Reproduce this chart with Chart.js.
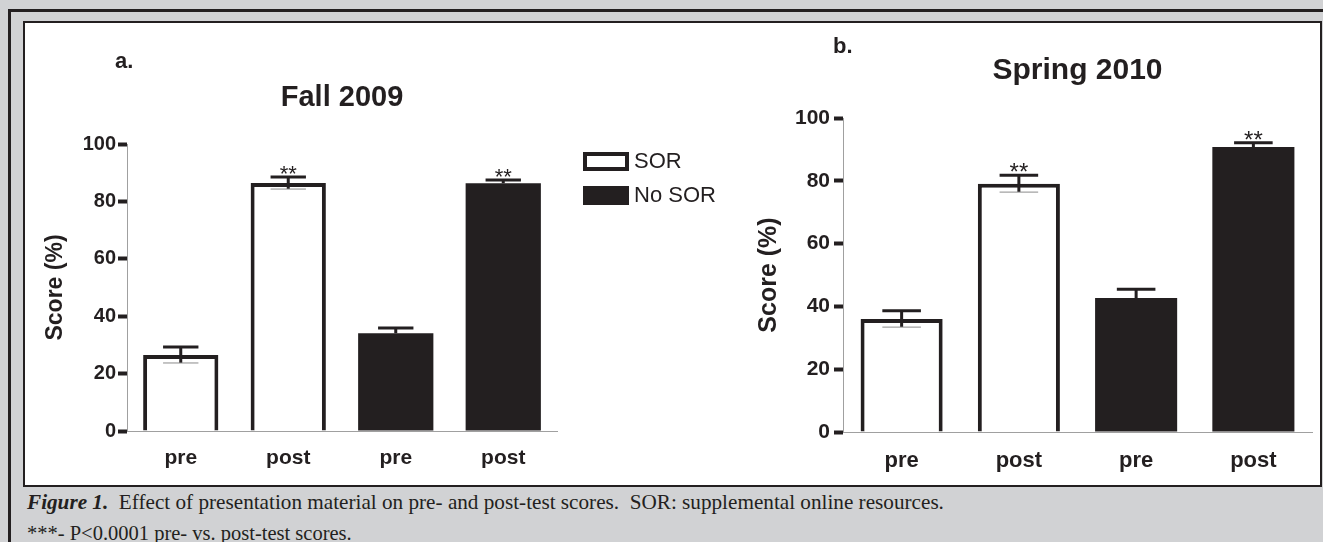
<!DOCTYPE html>
<html>
<head>
<meta charset="utf-8">
<script src="https://cdn.jsdelivr.net/npm/chart.js@4.4.1/dist/chart.umd.min.js"></script>
<style>
  html, body { margin: 0; padding: 0; }
  body { width: 1323px; height: 542px; overflow: hidden; background: #d1d2d4; position: relative; }
  #outer { position: absolute; left: 8px; top: 9px; width: 1400px; height: 600px; border: 3px solid #231f20; box-sizing: border-box; }
  #panel { position: absolute; left: 23px; top: 21px; width: 1299px; height: 466px; background: #fff; border: 2px solid #231f20; box-sizing: border-box; }
  canvas { position: absolute; }
  #chartA { left: 25px; top: 23px; }
  #chartB { left: 750px; top: 23px; }
  .caption { position: absolute; left: 27px; font-family: 'Liberation Serif', 'Times New Roman', serif; line-height: 20px; color: #231f20; white-space: pre; }
</style>
</head>
<body>
<div id="outer"></div>
<div id="panel"></div>
<canvas id="chartA" width="725" height="462"></canvas>
<canvas id="chartB" width="569" height="462"></canvas>
<div class="caption" style="top:492px; font-size:21.2px"><b><i>Figure 1.</i></b>  Effect of presentation material on pre- and post-test scores.  SOR: supplemental online resources.</div>
<div class="caption" style="top:523px; font-size:20.5px">***- P&lt;0.0001 pre- vs. post-test scores.</div>
<script>
var ink = '#231f20';
var sans = "'Liberation Sans', Arial, sans-serif";

// data
var categories = ['pre', 'post', 'pre', 'post'];
var yTicks = [0, 20, 40, 60, 80, 100];
var fallSOR = [26.5, 86.4, null, null];
var fallNoSOR = [null, null, 34.1, 86.3];
var fallSEM = [2.8, 2.1, 1.8, 1.2];
var springSOR = [36.0, 79.1, null, null];
var springNoSOR = [null, null, 42.7, 90.8];
var springSEM = [2.6, 2.7, 2.8, 1.3];
var stars = ['', '**', '', '**'];

// error bars (upper whisker, lower one only on open bars) and significance stars
var errorBars = {
    id: 'errorBars',
    afterDatasetsDraw: function (chart, args, o) {
        var ctx = chart.ctx, y = chart.scales.y;
        ctx.save();
        chart.data.datasets.forEach(function (ds, di) {
            chart.getDatasetMeta(di).data.forEach(function (bar, i) {
                var v = ds.data[i];
                if (v == null) return;
                var top = y.getPixelForValue(v + o.sem[i]);
                var low = y.getPixelForValue(v - o.sem[i]);
                var half = bar.width * 0.235;
                ctx.strokeStyle = ink;
                ctx.lineWidth = 3;
                ctx.beginPath();
                ctx.moveTo(bar.x, bar.y); ctx.lineTo(bar.x, top);
                ctx.moveTo(bar.x - half, top); ctx.lineTo(bar.x + half, top);
                if (ds.borderWidth) {
                    ctx.moveTo(bar.x, bar.y); ctx.lineTo(bar.x, low);
                }
                ctx.stroke();
                if (ds.borderWidth) {
                    ctx.strokeStyle = '#8a8a8a';
                    ctx.lineWidth = 1;
                    ctx.beginPath();
                    ctx.moveTo(bar.x - half, low); ctx.lineTo(bar.x + half, low);
                    ctx.stroke();
                }
                if (o.stars[i]) {
                    ctx.fillStyle = ink;
                    ctx.font = o.starSize + 'px ' + sans;
                    ctx.textAlign = 'center';
                    ctx.textBaseline = 'alphabetic';
                    ctx.fillText(o.stars[i], bar.x, top + o.starSize * 0.2);
                }
            });
        });
        ctx.restore();
    }
};

// panel letter and box legend
var extras = {
    id: 'extras',
    afterDraw: function (chart, args, o) {
        var ctx = chart.ctx, area = chart.chartArea;
        ctx.save();
        ctx.fillStyle = ink;
        ctx.font = 'bold ' + o.letterSize + 'px ' + sans;
        ctx.textBaseline = 'alphabetic';
        ctx.fillText(o.letter, o.letterX, o.letterY);
        if (o.legend) {
            ctx.font = o.legendSize + 'px ' + sans;
            ctx.textBaseline = 'middle';
            chart.data.datasets.forEach(function (ds, i) {
                var x = area.right + 26, yy = area.top + 8 + i * 34, w = 46, h = 19, b = ds.borderWidth;
                ctx.fillStyle = ds.borderColor;
                ctx.fillRect(x, yy, w, h);
                ctx.fillStyle = ds.backgroundColor;
                ctx.fillRect(x + b, yy + b, w - 2 * b, h - 2 * b);
                ctx.fillStyle = ink;
                ctx.fillText(ds.label, x + w + 5, yy + h / 2);
            });
        }
        ctx.restore();
    }
};

function makeChart(id, title, sor, noSor, sem, s) {
    return new Chart(document.getElementById(id), {
        type: 'bar',
        data: {
            labels: categories,
            datasets: [{
                label: 'SOR',
                data: sor,
                backgroundColor: '#ffffff',
                borderColor: ink,
                borderWidth: 4
            }, {
                label: 'No SOR',
                data: noSor,
                backgroundColor: ink,
                borderColor: ink,
                borderWidth: 0
            }]
        },
        options: {
            responsive: false,
            animation: false,
            events: [],
            grouped: false,
            categoryPercentage: 1,
            barPercentage: 0.70,
            layout: { padding: { left: 0, top: 0, right: s.right, bottom: s.bottom } },
            scales: {
                x: {
                    grid: { display: false },
                    border: { display: true, color: '#a0a0a0', width: 1 },
                    ticks: { color: ink, font: { family: sans, size: s.xSize, weight: 'bold' }, padding: s.xPad },
                    afterFit: function (scale) { scale.height = 40; }
                },
                y: {
                    min: 0,
                    max: 100,
                    afterBuildTicks: function (scale) { scale.ticks = yTicks.map(function (v) { return { value: v }; }); },
                    grid: { drawOnChartArea: false, drawTicks: true, tickLength: 9, tickWidth: 4, tickColor: ink },
                    border: { display: true, color: '#a0a0a0', width: 1 },
                    ticks: { color: ink, font: { family: sans, size: s.tickSize, weight: 'bold' }, padding: s.tickPad },
                    title: { display: true, text: 'Score (%)', color: ink, font: { family: sans, size: s.yTitleSize, weight: 'bold' }, padding: { top: s.yTitlePad, bottom: 0 } },
                    afterFit: function (scale) { scale.width = s.yWidth; }
                }
            },
            plugins: {
                legend: { display: false },
                tooltip: { enabled: false },
                title: {
                    display: true,
                    text: title,
                    fullSize: false,
                    color: ink,
                    font: { family: sans, size: s.titleSize, weight: 'bold', lineHeight: 1.2 },
                    padding: { top: s.titleTop, bottom: s.titleBottom }
                },
                errorBars: { sem: sem, stars: stars, starSize: s.starSize },
                extras: { letter: s.letter, letterX: s.letterX, letterY: s.letterY, letterSize: 22, legend: s.legend, legendSize: 22 }
            }
        },
        plugins: [errorBars, extras]
    });
}

document.addEventListener('DOMContentLoaded', function () {
    makeChart('chartA', 'Fall 2009', fallSOR, fallNoSOR, fallSEM, {
        right: 193, bottom: 14, xSize: 21, xPad: 7, tickSize: 20, tickPad: 2,
        yTitleSize: 23, yTitlePad: 17, yWidth: 102, titleSize: 29, titleTop: 57.6, titleBottom: 28.6,
        starSize: 22, letter: 'a.', letterX: 90, letterY: 45, legend: true
    });
    makeChart('chartB', 'Spring 2010', springSOR, springNoSOR, springSEM, {
        right: 7, bottom: 13, xSize: 22, xPad: 8, tickSize: 21, tickPad: 4,
        yTitleSize: 25, yTitlePad: 4, yWidth: 93, titleSize: 30, titleTop: 30, titleBottom: 29,
        starSize: 24, letter: 'b.', letterX: 83, letterY: 30, legend: false
    });
});
</script>
</body>
</html>
